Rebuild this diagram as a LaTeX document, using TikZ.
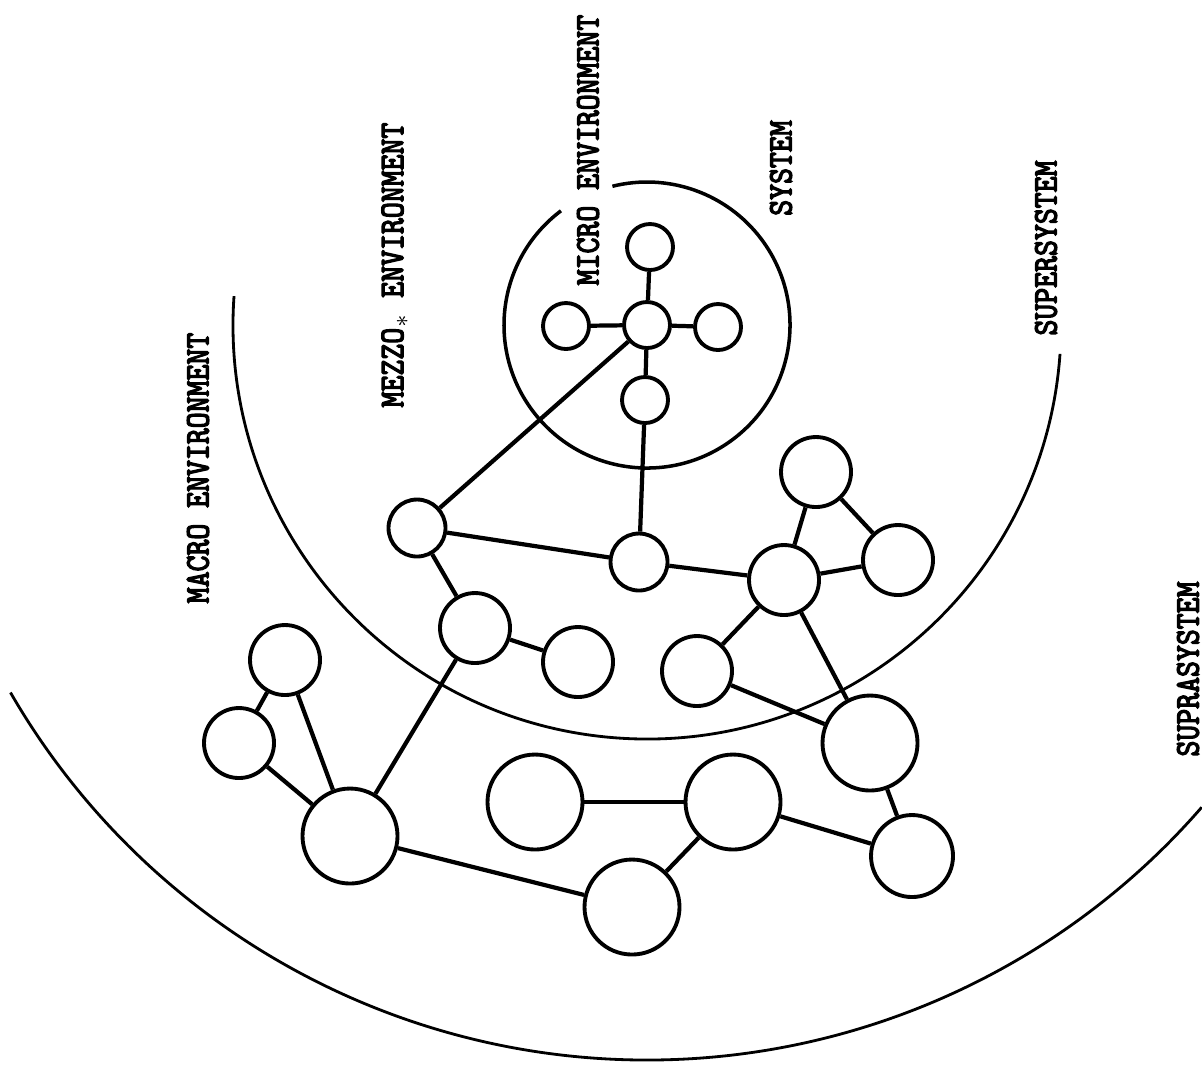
\documentclass[tikz,border=0pt]{standalone}
\usepackage{fontspec}
\usepackage{tikz}
\usetikzlibrary{positioning}
\newfontfamily\typewriter{Latin Modern Mono}[FakeBold=4]

\tikzset{
	unit/.style={circle, draw, line width=1.1pt, inner sep=0pt, minimum size=7mm},
	sysunit/.style={unit, minimum size=4.6mm},
	midunit/.style={unit, minimum size=5.7mm},
	bigunit/.style={unit, minimum size=9.5mm},
	link/.style={line width=1.2pt},
	ring/.style={line width=0.8pt},
	envlabel/.style={rotate=90, inner sep=0pt, font=\typewriter\fontsize{9.8}{12}\selectfont}
}

\begin{document}
\begin{tikzpicture}[y = -1cm]
	\useasboundingbox (0, 0) rectangle (12.02, 10.64);

	% System
	\node[sysunit] (sc) at (6.47, 3.25) {};
	\node[sysunit] (st) at (6.50, 2.47) {};
	\node[sysunit] (sl) at (5.66, 3.26) {};
	\node[sysunit] (sr) at (7.18, 3.27) {};
	\node[sysunit] (sb) at (6.45, 4.00) {};

	% Supersystem
	\node[midunit] (m1) at (4.17, 5.28) {};
	\node[midunit] (m2) at (6.39, 5.62) {};
	\node[unit] (m3) at (4.75, 6.28) {};
	\node[unit] (m4) at (5.78, 6.62) {};
	\node[unit] (m5) at (7.84, 5.80) {};
	\node[unit] (m6) at (8.16, 4.72) {};
	\node[unit] (m7) at (8.98, 5.60) {};
	\node[unit] (m8) at (6.97, 6.71) {};

	% Suprasystem
	\node[unit] (a1) at (2.85, 6.60) {};
	\node[unit] (a2) at (2.39, 7.43) {};
	\node[bigunit] (a3) at (3.50, 8.36) {};
	\node[bigunit] (a4) at (5.35, 8.02) {};
	\node[bigunit] (a5) at (7.33, 8.02) {};
	\node[bigunit] (a6) at (6.32, 9.07) {};
	\node[bigunit] (a7) at (8.70, 7.43) {};
	\node[unit, minimum size=8.2mm] (a8) at (9.12, 8.56) {};

	% Boundaries
	\draw[ring, line width=1pt] (sc.center) ++(127:1.43cm) arc[start angle=127, end angle=464, radius=1.43cm];
	\draw[ring] (sc.center) ++(176:4.14cm) arc[start angle=176, end angle=356, radius=4.14cm];
	\draw[ring] (sc.center) ++(210:7.35cm) arc[start angle=210, end angle=319, radius=7.35cm];

	% Links
	\draw[link] (sc) -- (st);
	\draw[link] (sc) -- (sl);
	\draw[link] (sc) -- (sr);
	\draw[link] (sc) -- (sb);
	\draw[link] (sb) -- (m2);
	\draw[link] (sc) -- (m1);
	\draw[link] (m1) -- (m2);
	\draw[link] (m1) -- (m3);
	\draw[link] (m3) -- (m4);
	\draw[link] (m3) -- (a3);
	\draw[link] (m2) -- (m5);
	\draw[link] (m5) -- (m6);
	\draw[link] (m6) -- (m7);
	\draw[link] (m5) -- (m7);
	\draw[link] (m5) -- (m8);
	\draw[link] (m5) -- (a7);
	\draw[link] (m8) -- (a7);
	\draw[link] (a7) -- (a8);
	\draw[link] (a5) -- (a8);
	\draw[link] (a4) -- (a5);
	\draw[link] (a5) -- (a6);
	\draw[link] (a3) -- (a6);
	\draw[link] (a3) -- (a1);
	\draw[link] (a3) -- (a2);
	\draw[link] (a2) -- (a1);

	% Labels
	\node[envlabel] (macro) at (1.98, 4.68) {\scalebox{0.88}[1]{MACRO ENVIRONMENT}};
	\node[envlabel] (mezzo) at (3.95, 2.65) {\scalebox{0.88}[1]{MEZZO$_*$ ENVIRONMENT}};
	\node[envlabel] (micro) at (5.88, 1.50) {\scalebox{0.88}[1]{MICRO ENVIRONMENT}};
	\node[envlabel] (system) at (7.81, 1.68) {\scalebox{0.88}[1]{SYSTEM}};
	\node[envlabel] (super) at (10.46, 2.48) {\scalebox{0.88}[1]{SUPERSYSTEM}};
	\node[envlabel] (supra) at (11.88, 6.69) {\scalebox{0.88}[1]{SUPRASYSTEM}};
\end{tikzpicture}
\end{document}
